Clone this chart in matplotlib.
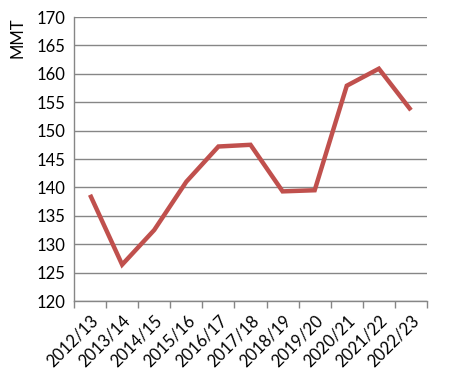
import matplotlib
matplotlib.use("Agg")
import matplotlib.pyplot as plt
import numpy as np

years = ["2012/13", "2013/14", "2014/15", "2015/16", "2016/17", "2017/18",
         "2018/19", "2019/20", "2020/21", "2021/22", "2022/23"]
values = [138.7, 126.4, 132.5, 141.0, 147.2, 147.5, 139.3, 139.5, 157.9, 160.9, 153.6]
yticks = [120, 125, 130, 135, 140, 145, 150, 155, 160, 165, 170]

plt.rcParams['font.family'] = ['Lato', 'DejaVu Sans']

fig = plt.figure(figsize=(4.53, 3.83), dpi=100)
ax = fig.add_axes([74/453, 82/383, (427-74)/453, (301-17)/383])

x = np.arange(len(years))
ax.plot(x, values, color="#C0504D", linewidth=3.2, solid_joinstyle='miter', solid_capstyle='butt', zorder=3)

ax.set_xlim(-0.5, len(years) - 0.5)
ax.set_ylim(120, 170)
ax.set_yticks(yticks)
ax.set_yticklabels([str(v) for v in yticks], fontsize=12)
ax.yaxis.grid(True, color="#868686", linewidth=1.0)
ax.set_axisbelow(True)

ax.set_xticks(x)
ax.set_xticklabels(years, rotation=45, ha='right', rotation_mode='anchor', fontsize=12)
ax.set_xticks(np.arange(-0.5, len(years)), minor=True)
ax.tick_params(axis='x', which='major', length=0, pad=8)
ax.tick_params(axis='x', which='minor', length=5, color="#868686", width=1)
ax.tick_params(axis='y', length=0, pad=6)

for s in ['top', 'right']:
    ax.spines[s].set_visible(False)
for s in ['left', 'bottom']:
    ax.spines[s].set_color("#868686")
    ax.spines[s].set_linewidth(1.0)

fig.text(18/453, 1 - 17/383, "MMT", rotation=90, va='top', ha='center', fontsize=12)

fig.savefig("out.png", dpi=100)
